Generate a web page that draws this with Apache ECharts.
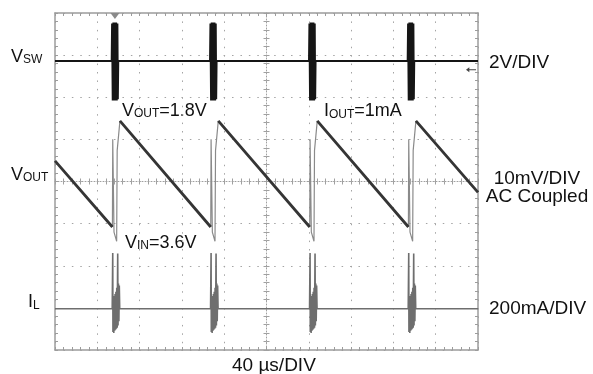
<!DOCTYPE html>
<html><head><meta charset="utf-8">
<script src="https://cdn.jsdelivr.net/npm/echarts@6/dist/echarts.min.js"></script>
<style>html,body{margin:0;padding:0;background:#fff}#c{width:593px;height:374px}</style>
</head><body><div id="c"></div>
<script>
// ================= DATA =================
// time axis: 40 us/DIV, 10 divisions, centred on 0
const timeMinUs = -200, timeMaxUs = 200, timeDivUs = 40;
// switching bursts (centre times, us)
const burstTimesUs = [-143.3, -50.3, 43.3, 136.6];

// VSW channel (V), 2V/DIV
const vswBaselineV = 0.42;
const vswBurstRelUs = [-3.0, -2.6, -2.0, -1.4, -0.8, -0.2, 0.4, 1.0, 1.6, 2.2, 2.6, 3.0];
const vswBurstV     = [0.42, 2.2, -1.45, 2.25, -1.45, 2.25, -1.45, 2.25, -1.45, 2.2, -1.4, 0.42];

// VOUT channel (mV, AC coupled), 10mV/DIV
const voutStartMv = 4.9;
const voutEndMv = -2.6;
const voutMinUs  = [-145.7, -52.7, 40.9, 134.2];
const voutMinMv  = [-10.8, -10.8, -10.8, -10.8];
const voutPeakUs = [-138.6, -45.6, 48.0, 141.3];
const voutPeakMv = [14.4, 14.4, 14.4, 14.4];
// ringing during each burst (relative to burst centre)
const voutSpikeRelUs = [-2.4, -2.1, -1.5, -0.9, 1.6, 2.1, 4.7];
const voutSpikeMv    = [-10.8, 10.0, -1.0, -12.0, -14.2, 7.4, 14.4];

// IL channel (mA), 200mA/DIV
const ilBaselineMa = 0;
const ilBurstRelUs = [-2.6, -2.1, -1.9, -1.5, -1.1, -0.7, -0.3, 0.1, 0.5, 0.9, 1.3, 1.7, 2.1, 2.6, 2.9, 3.3, 3.7, 4.1, 4.5];
const ilBurstMa    = [0, 265, -110, 30, -115, 60, -105, 70, -100, 80, -95, 100, -90, 262, -80, 120, -60, 110, 0];

// texts
const channelLabels = [['V', 'SW'], ['V', 'OUT'], ['I', 'L']];
const noteVout = ['V', 'OUT', '=1.8V'];
const noteIout = ['I', 'OUT', '=1mA'];
const noteVin  = ['V', 'IN', '=3.6V'];
const scaleLabels = ['2V/DIV', '10mV/DIV', 'AC Coupled', '200mA/DIV'];
const timeLabel = '40 µs/DIV';

// ================= channel scaling (units per division, screen offset in divisions) =================
const VSW  = { perDiv: 2,   offsetDiv: 2.65 };
const VOUT = { perDiv: 10,  offsetDiv: 0 };
const IL   = { perDiv: 200, offsetDiv: -3.02 };
const toDiv = (ch, v) => ch.offsetDiv + v / ch.perDiv;

// ---- build series ----
const vswData = [[timeMinUs, toDiv(VSW, vswBaselineV)]];
burstTimesUs.forEach(b => {
  vswBurstRelUs.forEach((r, i) => vswData.push([b + r, toDiv(VSW, vswBurstV[i])]));
});
vswData.push([timeMaxUs, toDiv(VSW, vswBaselineV)]);

const rampData = [[timeMinUs, toDiv(VOUT, voutStartMv)]];
voutMinUs.forEach((t, i) => {
  rampData.push([t, toDiv(VOUT, voutMinMv[i])]);
  rampData.push(['-', '-']);
  rampData.push([voutPeakUs[i], toDiv(VOUT, voutPeakMv[i])]);
});
rampData.push([timeMaxUs, toDiv(VOUT, voutEndMv)]);

const spikeData = [];
burstTimesUs.forEach(b => {
  voutSpikeRelUs.forEach((r, i) => spikeData.push([b + r, toDiv(VOUT, voutSpikeMv[i])]));
  spikeData.push(['-', '-']);
});

const ilData = [[timeMinUs, toDiv(IL, ilBaselineMa)]];
burstTimesUs.forEach(b => {
  ilBurstRelUs.forEach((r, i) => ilData.push([b + r, toDiv(IL, ilBurstMa[i])]));
});
ilData.push([timeMaxUs, toDiv(IL, ilBaselineMa)]);

// ================= chart =================
const FONT = '"Liberation Sans", Arial, Helvetica, sans-serif';
const edgeCol = '#9c9c9c';
const gridDot = '#a4a4a4';

function edgeAxis(extra) {
  return Object.assign({
    type: 'value', silent: true,
    axisLine: { show: true, onZero: false, lineStyle: { color: edgeCol, width: 1.5 } },
    axisTick: { show: true, inside: true, length: 3, lineStyle: { color: edgeCol, width: 1 } },
    minorTick: { show: true, splitNumber: 5, length: 3, lineStyle: { color: edgeCol, width: 1 } },
    axisLabel: { show: false },
    splitLine: { show: false }
  }, extra);
}
function centerAxis(extra, showLine) {
  return Object.assign({
    type: 'value', silent: true,
    axisLine: { show: showLine, onZero: true, lineStyle: { color: '#a0a0a0', width: 1, type: [1, 2] } },
    axisTick: { show: true, inside: true, length: 3, lineStyle: { color: '#a0a0a0', width: 1 } },
    minorTick: { show: true, splitNumber: 5, length: 3, lineStyle: { color: '#a0a0a0', width: 1 } },
    axisLabel: { show: false },
    splitLine: { show: false }
  }, extra);
}
const xr = { min: timeMinUs, max: timeMaxUs, interval: timeDivUs };
const yr = { min: -4, max: 4, interval: 1 };
const dotted = { show: true, lineStyle: { color: gridDot, width: 1, type: [1.5, 6.93] } };

function richText(x, y, parts) {
  let t = '{a|' + parts[0] + '}{b|' + parts[1] + '}';
  if (parts[2]) t += '{a|' + parts[2] + '}';
  return {
    type: 'text', silent: true,
    style: {
      x: x, y: y, text: t, align: 'left', verticalAlign: 'middle', fill: '#111',
      rich: {
        a: { fontSize: 18, fontFamily: FONT, fill: '#111', verticalAlign: 'bottom' },
        b: { fontSize: 12, fontFamily: FONT, fill: '#111', verticalAlign: 'bottom' }
      }
    }
  };
}
function plainText(x, y, text, align) {
  return {
    type: 'text', silent: true,
    style: { x: x, y: y, text: text, align: align || 'left', verticalAlign: 'middle',
      fill: '#111', fontSize: 19, fontFamily: FONT }
  };
}

const chart = echarts.init(document.getElementById('c'), null, { renderer: 'canvas' });
chart.setOption({
  animation: false,
  backgroundColor: '#fff',
  grid: { left: 55, right: 115, top: 13, bottom: 24, containLabel: false },
  xAxis: [
    edgeAxis(Object.assign({ position: 'bottom', splitLine: dotted }, xr)),
    edgeAxis(Object.assign({ position: 'top' }, xr)),
    centerAxis(Object.assign({ position: 'bottom' }, xr), true),
    centerAxis(Object.assign({ position: 'top' }, xr), false)
  ],
  yAxis: [
    edgeAxis(Object.assign({ position: 'left', splitLine: dotted }, yr)),
    edgeAxis(Object.assign({ position: 'right' }, yr)),
    centerAxis(Object.assign({ position: 'left' }, yr), true),
    centerAxis(Object.assign({ position: 'right' }, yr), false)
  ],
  series: [
    { name: 'IL', type: 'line', data: ilData, showSymbol: false, symbol: 'none',
      lineStyle: { color: '#6e6e6e', width: 1.6 }, z: 3 },
    { name: 'VOUT ringing', type: 'line', data: spikeData, showSymbol: false, symbol: 'none',
      connectNulls: false, lineStyle: { color: '#8a8a8a', width: 1.2 }, z: 4 },
    { name: 'VOUT', type: 'line', data: rampData, showSymbol: false, symbol: 'none',
      connectNulls: false, lineStyle: { color: '#353535', width: 2.8 }, z: 5 },
    { name: 'VSW', type: 'line', data: vswData, showSymbol: false, symbol: 'none',
      lineStyle: { color: '#151515', width: 2.2 }, z: 6,
      markPoint: {
        silent: true, label: { show: false },
        data: [
          { coord: [burstTimesUs[0], 4], symbol: 'triangle', symbolRotate: 180, symbolSize: [9, 6],
            symbolOffset: [0, 3], itemStyle: { color: '#8a8a8a' } },
          { coord: [timeMaxUs, toDiv(VSW, 0)], symbol: 'path://M0,5 L4,2 L4,4.4 L12,4.4 L12,5.6 L4,5.6 L4,8 Z',
            symbolSize: [10, 5], symbolOffset: [-7, 0], itemStyle: { color: '#444' } }
        ]
      } }
  ],
  graphic: [
    richText(11, 57, channelLabels[0]),
    richText(11, 175, channelLabels[1]),
    richText(28, 302.5, channelLabels[2]),
    richText(122, 111, noteVout),
    richText(324, 111.5, noteIout),
    richText(125, 243, noteVin),
    plainText(489, 62.5, scaleLabels[0]),
    plainText(537, 179, scaleLabels[1], 'center'),
    plainText(537, 197, scaleLabels[2], 'center'),
    plainText(489, 308.5, scaleLabels[3]),
    plainText(232, 366, timeLabel)
  ]
});
</script></body></html>
